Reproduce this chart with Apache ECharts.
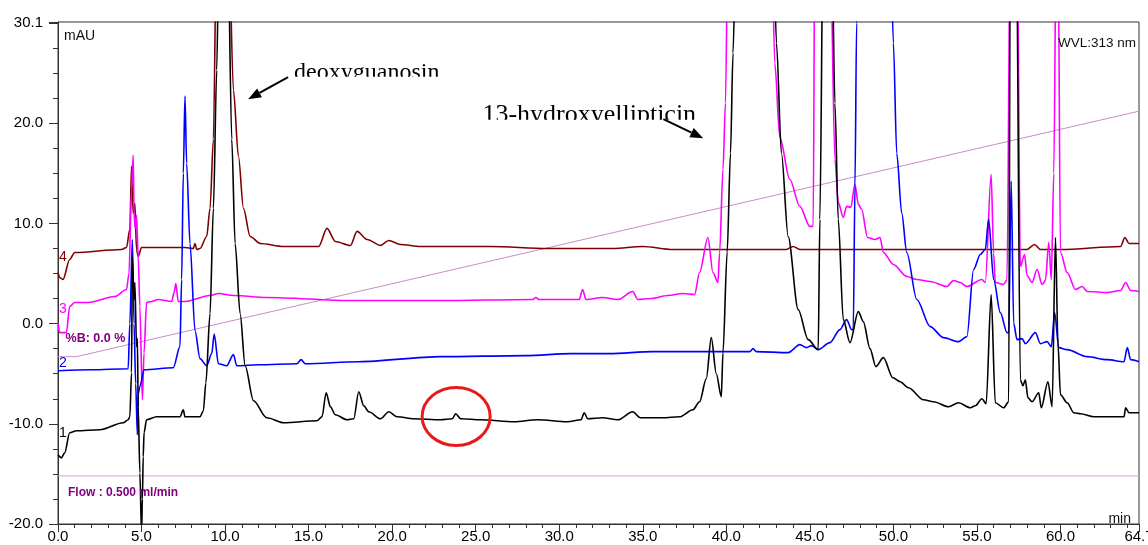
<!DOCTYPE html>
<html>
<head>
<meta charset="utf-8">
<script src="https://cdn.jsdelivr.net/npm/echarts@6/dist/echarts.min.js"></script>
<style>
  html, body { margin: 0; padding: 0; background: #fff; }
  #chart { width: 1148px; height: 545px; }
</style>
</head>
<body>
<div id="chart"></div>
<script>
// retention time (min) / absorbance (mAU)
var trace1 = [
  [0, -13.1], [0.2, -13.4], [0.4, -12.9], [0.7, -10.9], [1.1, -10.7], [2.5, -10.6], [3.9, -9.9], [4.2, -9.6],
  [4.3, -9.3], [4.4, -4.9], [4.45, 6.6], [4.55, 2.4], [4.6, 4.1], [4.7, -2.3], [4.75, -1.5], [4.8, -8.3],
  [4.9, -14.9], [5.0, -21], [5.05, -17.5], [5.1, -13.3], [5.15, -10.9], [5.3, -9.6], [5.9, -9.3], [7.3, -9.3],
  [7.5, -8.6], [7.6, -9.3], [8.5, -9.3], [8.7, -8.7], [8.85, -5.9], [9.1, 1.0], [9.3, 11.5], [9.5, 25.3],
  [9.65, 40], [10.15, 40], [10.4, 18.4], [10.6, 8.0], [10.9, 1.0], [11.2, -4.2], [11.7, -7.7], [12.5, -9.4],
  [13.5, -9.9], [15.5, -9.7], [15.8, -9.3], [16.05, -6.9], [16.3, -8.3], [16.6, -9.1], [17.3, -9.6], [17.7, -9.5],
  [18.0, -6.8], [18.3, -8.2], [18.6, -8.8], [19.3, -9.5], [19.8, -8.8], [20.3, -9.3], [21.3, -9.5], [22.9, -9.6],
  [23.6, -9.5], [23.8, -9.0], [24.1, -9.5], [25.3, -9.6], [27.3, -9.8], [28.7, -9.6], [30.5, -9.8],
  [31.3, -9.6], [31.5, -8.9], [31.7, -9.5], [32.6, -9.4], [33.5, -9.6], [34.4, -8.8], [34.85, -9.4],
  [36.2, -9.4], [37.2, -9.3], [38.0, -8.6], [38.4, -7.8], [38.8, -5.5], [39.1, -1.4], [39.4, -5.0],
  [39.7, -7.3], [39.8, -2.9], [40.05, 7.1], [40.25, 17], [40.4, 27], [40.6, 40], [42.8, 40], [43.0, 28],
  [43.3, 17], [43.7, 8.7], [44.3, 1.4], [44.9, -1.6], [45.5, -2.6], [45.6, 10.4], [45.8, 40], [46.3, 40],
  [46.5, 22], [46.7, 10.4], [47.0, 0.4], [47.4, -1.9], [47.9, 1.2], [48.2, 0.2], [48.6, -2.5], [48.95, -4.3],
  [49.4, -3.4], [49.97, -5.4], [50.4, -5.8], [50.9, -6.4], [51.8, -7.6], [52.4, -7.8], [53.3, -8.3],
  [53.9, -7.9], [54.6, -8.4], [54.9, -8.2], [55.3, -7.5], [55.55, -8.0], [55.85, 2.9], [56.1, -7.9],
  [56.6, -8.4], [56.9, -7.8], [57.0, 40], [57.35, 40], [57.6, -5.6], [57.75, -6.2], [57.9, -5.6],
  [58.05, -7.4], [58.3, -7.8], [58.7, -6.9], [58.85, -8.4], [59.25, -5.8], [59.5, -8.3], [59.7, 8.6],
  [59.85, -2.0], [60.0, -7.1], [60.4, -7.9], [60.8, -8.9], [61.2, -9.0], [62.0, -9.3], [63.8, -9.3],
  [63.9, -8.4], [64.1, -8.9], [64.7, -8.9]
];
var trace2 = [
  [0, -4.7], [2.0, -4.6], [4.2, -4.5], [4.3, 0], [4.45, 8.4], [4.55, 0], [4.65, -6], [4.75, -11.1],
  [4.8, -7], [4.9, -6.3], [5.15, -4.6], [6.9, -4.4], [7.3, -2.3], [7.4, 4.4], [7.5, 15], [7.6, 22.7],
  [7.7, 16], [7.9, 8.0], [8.2, -0.7], [8.5, -3.5], [8.9, -4.2], [9.2, -3.0], [9.35, -1.05], [9.6, -4.0],
  [10.1, -4.2], [10.5, -3.1], [10.7, -4.2], [12, -4.1], [14.3, -4.0], [14.55, -3.6], [14.8, -4.0],
  [18, -3.8], [22.9, -3.3], [28, -3.2], [30.7, -3.0], [33, -3.0], [35.6, -2.8], [38.4, -2.8], [41.4, -2.8],
  [41.6, -2.5], [41.8, -2.8], [43.7, -2.9], [44.4, -2.1], [44.8, -2.4], [45.1, -2.2], [45.5, -2.6],
  [46.2, -1.9], [46.8, -0.6], [47.2, 0.4], [47.5, -0.6], [47.6, -0.6], [47.7, 13.7], [47.8, 30],
  [47.9, 40], [49.8, 40], [50.0, 28], [50.2, 17], [50.5, 11], [50.8, 7.1], [51.4, 2.4], [52.2, -0.3],
  [53.0, -1.4], [53.9, -1.8], [54.4, -1.3], [54.8, 5.4], [55.2, 6.9], [55.5, 7.4], [55.7, 10.4],
  [56.0, 4.4], [56.4, 1.1], [56.8, -0.9], [56.9, -0.9], [57.05, 14.2], [57.2, 0], [57.4, -1.6],
  [57.7, -1.5], [57.9, -2.0], [58.5, -0.9], [58.8, -2.0], [59.2, -1.8], [59.45, -2.3], [59.65, 1.1],
  [59.9, -2.4], [60.4, -2.6], [61.6, -3.3], [62.8, -3.6], [63.8, -3.8], [64.0, -2.4], [64.2, -3.6],
  [64.7, -3.8]
];
var trace3 = [
  [0, 0.1], [0.1, -0.9], [0.5, -0.9], [0.7, 1.7], [1.0, 2.1], [1.8, 2.1], [3.4, 2.7], [4.1, 3.4],
  [4.25, 5.0], [4.4, 13.4], [4.5, 16.8], [4.55, 11.0], [4.62, 9.5], [4.7, 10.8], [4.8, 6.7], [4.9, 1.7],
  [5.05, -7.6], [5.15, -2.9], [5.3, 2.1], [5.6, 2.2], [6.0, 2.4], [6.8, 2.2], [6.95, 3.1], [7.05, 4.0],
  [7.2, 2.2], [7.6, 2.2], [9.1, 2.8], [9.6, 3.0], [10.5, 2.8], [12.5, 2.6], [17.5, 2.3], [22.9, 2.3],
  [28.4, 2.4], [28.6, 2.6], [28.8, 2.4], [31.2, 2.4], [31.4, 3.4], [31.6, 2.4], [32.6, 2.6], [33.5, 2.4],
  [34.4, 3.2], [34.7, 2.4], [35.5, 2.5], [36.5, 2.8], [37.4, 3.0], [38.1, 2.9], [38.4, 5.1], [38.9, 8.6],
  [39.2, 5.1], [39.5, 4.1], [39.6, 7.1], [39.8, 15.4], [39.95, 22], [40.1, 40], [42.7, 40], [42.9, 26],
  [43.2, 18.6], [43.8, 14.4], [44.4, 11.7], [45.0, 9.7], [45.2, 9.7], [45.3, 40], [46.2, 40], [46.5, 16.4],
  [46.7, 12.1], [47.0, 10.6], [47.2, 11.7], [47.45, 11.6], [47.7, 13.9], [47.9, 11.9], [48.1, 11.4],
  [48.45, 8.6], [48.9, 8.4], [49.2, 8.6], [49.4, 7.1], [50.0, 5.9], [50.8, 4.7], [51.4, 4.4], [52.2, 4.2],
  [53.2, 3.7], [53.6, 4.3], [54.0, 4.1], [54.4, 3.7], [55.3, 4.4], [55.5, 4.1], [55.85, 14.9], [56.0, 7.0],
  [56.1, 4.1], [56.6, 3.9], [56.8, 4.4], [57.0, 40], [57.4, 40], [57.6, 5.7], [57.85, 6.9], [58.0, 4.8],
  [58.3, 4.1], [58.6, 5.4], [58.9, 3.9], [59.1, 4.3], [59.3, 8.1], [59.45, 4.4], [59.6, 15], [59.75, 40],
  [59.85, 40], [60.0, 7.1], [60.4, 5.1], [60.9, 3.4], [61.3, 3.7], [61.6, 3.2], [62.8, 3.1], [63.6, 3.3],
  [63.9, 4.1], [64.2, 3.3], [64.7, 3.2]
];
var trace4 = [
  [0, 5.1], [0.1, 4.6], [0.3, 4.4], [0.7, 6.4], [1.0, 7.1], [3.8, 7.4], [4.1, 7.6], [4.3, 9.4], [4.4, 15.7],
  [4.5, 11], [4.6, 12], [4.7, 7.4], [4.8, 6.7], [5.0, 7.6], [7.6, 7.6], [8.1, 7.5], [8.2, 8.0], [8.3, 7.4],
  [8.5, 7.5], [8.9, 8.7], [9.1, 11.5], [9.3, 18.4], [9.5, 40], [10.2, 40], [10.5, 23.3], [10.8, 16.7],
  [11.1, 11.5], [11.5, 8.7], [12.1, 8.0], [13.5, 7.7], [15.6, 7.7], [16.1, 9.5], [16.6, 8.2], [17.5, 7.8],
  [17.9, 9.2], [18.5, 8.4], [19.3, 7.8], [19.8, 8.3], [20.5, 7.9], [21.7, 7.7], [25.9, 7.7], [29.3, 7.5],
  [33.2, 7.5], [35.0, 7.7], [36.8, 7.4], [41.2, 7.4], [43.6, 7.4], [44.0, 7.7], [44.4, 7.4], [54.0, 7.4],
  [58.0, 7.4], [58.45, 7.9], [58.8, 7.4], [60.0, 7.4], [63.6, 7.7], [63.85, 8.6], [64.1, 8.0], [64.7, 8.0]
];
var gradientB = [[0, -3.3], [1.1, -3.3], [64.7, 21.2]];
var flowLine = [[0, -15.2], [64.7, -15.2]];

var traceNames = ['1', '2', '3', '4'];
var traceColors = ['#000000', '#0000ff', '#ff00ff', '#800000'];
var traceLabelY = [-10.9, -3.9, 1.4, 6.6];
var yMax = 30.1;

var chart = echarts.init(document.getElementById('chart'));

function lineSeries (name, data, color, width, smooth) {
  return {
    name: name,
    type: 'line',
    data: data,
    showSymbol: false,
    symbol: 'none',
    clip: true,
    smooth: smooth,
    smoothMonotone: 'x',
    lineStyle: { color: color, width: width },
    emphasis: { disabled: true },
    silent: true
  };
}

chart.setOption({
  animation: false,
  grid: { left: 58, right: 9, top: 22, bottom: 21, show: true, borderColor: '#333', borderWidth: 1, containLabel: false, outerBoundsMode: 'none' },
  xAxis: {
    type: 'value', min: 0, max: 64.7, interval: 5,
    axisLine: { onZero: false, lineStyle: { color: '#333' } },
    axisTick: { length: 8, lineStyle: { color: '#333' } },
    minorTick: { show: true, splitNumber: 5, length: 4, lineStyle: { color: '#333' } },
    splitLine: { show: false },
    axisLabel: { color: '#000', fontSize: 15, fontFamily: 'Liberation Sans, Arial', margin: 5,
      formatter: function (v) { return v.toFixed(1) } }
  },
  yAxis: {
    type: 'value', min: -20, max: yMax, interval: 10,
    axisLine: { show: true, onZero: false, lineStyle: { color: '#333' } },
    axisTick: { show: true, length: 9, lineStyle: { color: '#333' } },
    minorTick: { show: true, splitNumber: 4, length: 5, lineStyle: { color: '#333' } },
    splitLine: { show: false },
    axisLabel: { color: '#000', fontSize: 15, fontFamily: 'Liberation Sans, Arial', margin: 15,
      formatter: function (v) { return (v > yMax - 1 ? yMax : v).toFixed(1) } }
  },
  series: [
    lineSeries('%B', gradientB, '#c78cc7', 1, false),
    lineSeries('Flow', flowLine, '#d9a0d9', 1, false),
    lineSeries('4', trace4, traceColors[3], 1.6, 0.3),
    lineSeries('3', trace3, traceColors[2], 1.6, 0.3),
    lineSeries('2', trace2, traceColors[1], 1.6, 0.3),
    lineSeries('1', trace1, traceColors[0], 1.6, 0.3)
  ]
});

// annotations placed in data coordinates
function px (t, v) { return chart.convertToPixel({ gridIndex: 0 }, [t, v]) }

function arrow (from, to) {
  var a = px(from[0], from[1]), b = px(to[0], to[1]);
  var ang = Math.atan2(b[1] - a[1], b[0] - a[0]);
  var len = 13, half = 5;
  var bx = b[0] - len * Math.cos(ang), by = b[1] - len * Math.sin(ang);
  var nx = -Math.sin(ang) * half, ny = Math.cos(ang) * half;
  return [
    { type: 'line', z: 120, shape: { x1: a[0], y1: a[1], x2: bx, y2: by }, style: { stroke: '#000', lineWidth: 2 } },
    { type: 'polygon', z: 120, shape: { points: [[b[0], b[1]], [bx + nx, by + ny], [bx - nx, by - ny]] }, style: { fill: '#000' } }
  ];
}

function txt (x, y, text, font, color, align, valign, z) {
  return { type: 'text', x: x, y: y, z: z || 100,
    style: { text: text, font: font, fill: color, align: align, textAlign: align, verticalAlign: valign, textVerticalAlign: valign } };
}

var sans = 'Liberation Sans, Arial, sans-serif';
var serif = 'Liberation Serif, Times New Roman, serif';
var g = [];
var gb = chart.getModel().getComponent('grid').coordinateSystem.getRect();

g.push(txt(gb.x + 6, gb.y + 14, 'mAU', '14px ' + sans, '#111', 'left', 'middle'));
g.push(txt(gb.x + gb.width - 3, gb.y + 21, 'WVL:313 nm', '13.5px ' + sans, '#111', 'right', 'middle'));
g.push(txt(gb.x + gb.width - 8, gb.y + gb.height - 5, 'min', '14px ' + sans, '#111', 'right', 'middle'));

var pB = px(0.45, -1.5);
g.push(txt(pB[0], pB[1], '%B: 0.0 %', 'bold 12.5px ' + sans, '#800080', 'left', 'middle'));
var pF = px(0.6, -16.9);
g.push(txt(pF[0], pF[1], 'Flow : 0.500 ml/min', 'bold 12px ' + sans, '#800080', 'left', 'middle'));

for (var i = 0; i < traceNames.length; i++) {
  var p = px(0.3, traceLabelY[i]);
  g.push(txt(p[0], p[1], traceNames[i], '14px ' + sans, traceColors[i], 'center', 'middle'));
}

// peak labels, bottom of the lettering cut off as in the source image
var pD = px(14.13, 23.8);
g.push(txt(pD[0], pD[1], 'deoxyguanosin', '24px ' + serif, '#000', 'left', 'bottom', 100));
g.push({ type: 'rect', z: 110, shape: { x: pD[0] - 3, y: pD[1] - 8.5, width: 160, height: 14 }, style: { fill: '#fff' } });
var pH = px(25.4, 19.55);
g.push(txt(pH[0], pH[1], '13-hydroxyellipticin', '26px ' + serif, '#000', 'left', 'bottom', 100));
g.push({ type: 'rect', z: 110, shape: { x: pH[0] - 3, y: pH[1] - 8, width: 225, height: 14 }, style: { fill: '#fff' } });

g = g.concat(arrow([13.77, 24.6], [11.38, 22.4]));
g = g.concat(arrow([36.23, 20.4], [38.62, 18.5]));

var pE = px(23.83, -9.27);
g.push({ type: 'ellipse', z: 120, shape: { cx: pE[0], cy: pE[1], rx: 34, ry: 29 }, style: { fill: 'none', stroke: '#e8191c', lineWidth: 3 } });

chart.setOption({ graphic: g });

window.addEventListener('resize', function () { chart.resize() });
</script>
</body>
</html>
